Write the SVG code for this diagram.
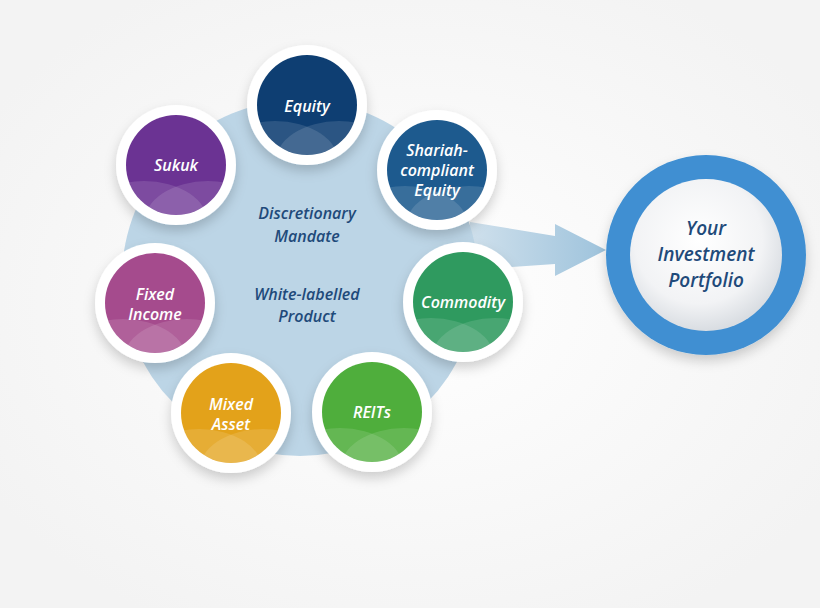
<svg xmlns="http://www.w3.org/2000/svg" width="820" height="608" viewBox="0 0 820 608">
<defs>
<radialGradient id="bgG" cx="0.5" cy="0.5" r="0.6"><stop offset="0" stop-color="#ffffff"/><stop offset="1" stop-color="#f3f3f3"/></radialGradient>
<radialGradient id="port" cx="0.45" cy="0.4" r="0.6"><stop offset="0" stop-color="#ffffff"/><stop offset="0.7" stop-color="#f2f3f5"/><stop offset="1" stop-color="#d9dde2"/></radialGradient>
<linearGradient id="arr" x1="0" x2="1"><stop offset="0" stop-color="#cfe0ec"/><stop offset="1" stop-color="#9ec3dc"/></linearGradient>
<filter id="sh" x="-30%" y="-30%" width="160%" height="170%"><feDropShadow dx="0" dy="6" stdDeviation="6" flood-color="#000" flood-opacity="0.18"/></filter>
<clipPath id="c"><circle cx="0" cy="0" r="50"/></clipPath>
<g id="wave"><g clip-path="url(#c)"><ellipse cx="-32" cy="58" rx="64" ry="42" fill="#fff" opacity="0.12"/><ellipse cx="32" cy="58" rx="64" ry="42" fill="#fff" opacity="0.12"/></g></g>
</defs>
<style>
.ring{fill:#fff;filter:url(#sh)}
.t{font-family:"Open Sans","Liberation Sans",sans-serif;font-style:italic;font-weight:600;fill:#fff;font-size:16px;text-anchor:middle}
.d{font-family:"Open Sans","Liberation Sans",sans-serif;font-style:italic;font-weight:600;fill:#1f4a7a;font-size:16px;text-anchor:middle}
.p{font-size:19px}
</style>
<rect width="820" height="608" fill="url(#bgG)"/>
<g id="connectors">
<polygon points="470,222 555,236 555,224 606,250 555,276 555,264 470,270" fill="url(#arr)"/>
</g>
<g id="hub">
<circle cx="300" cy="278" r="178" fill="#bcd5e6"/>
<text class="d" x="307" y="219">Discretionary</text>
<text class="d" x="307" y="242">Mandate</text>
<text class="d" x="307" y="300">White-labelled</text>
<text class="d" x="307" y="322">Product</text>
</g>
<g id="equity" transform="translate(307,105)"><circle class="ring" r="60"/><circle r="50" fill="#0e3e72"/><use href="#wave"/><text class="t" y="7">Equity</text></g>
<g id="shariah" transform="translate(437,170)"><circle class="ring" r="60"/><circle r="50" fill="#1d5a8e"/><use href="#wave"/><text class="t" y="-14">Shariah-</text><text class="t" y="6">compliant</text><text class="t" y="26">Equity</text></g>
<g id="commodity" transform="translate(463,302)"><circle class="ring" r="60"/><circle r="50" fill="#2f9a5f"/><use href="#wave"/><text class="t" y="6">Commodity</text></g>
<g id="reits" transform="translate(372,412)"><circle class="ring" r="60"/><circle r="50" fill="#4fae3c"/><use href="#wave"/><text class="t" y="6">REITs</text></g>
<g id="mixed" transform="translate(231,413)"><circle class="ring" r="60"/><circle r="50" fill="#e3a21a"/><use href="#wave"/><text class="t" y="-3">Mixed</text><text class="t" y="17">Asset</text></g>
<g id="fixed" transform="translate(155,303)"><circle class="ring" r="60"/><circle r="50" fill="#a54b8d"/><use href="#wave"/><text class="t" y="-3">Fixed</text><text class="t" y="17">Income</text></g>
<g id="sukuk" transform="translate(176,165)"><circle class="ring" r="60"/><circle r="50" fill="#6b3393"/><use href="#wave"/><text class="t" y="6">Sukuk</text></g>
<g id="portfolio" transform="translate(706,255)">
<circle r="100" fill="#3f8fd2" filter="url(#sh)"/>
<circle r="76" fill="url(#port)"/>
<text class="d p" y="-20">Your</text>
<text class="d p" y="6">Investment</text>
<text class="d p" y="32">Portfolio</text>
</g>
</svg>
